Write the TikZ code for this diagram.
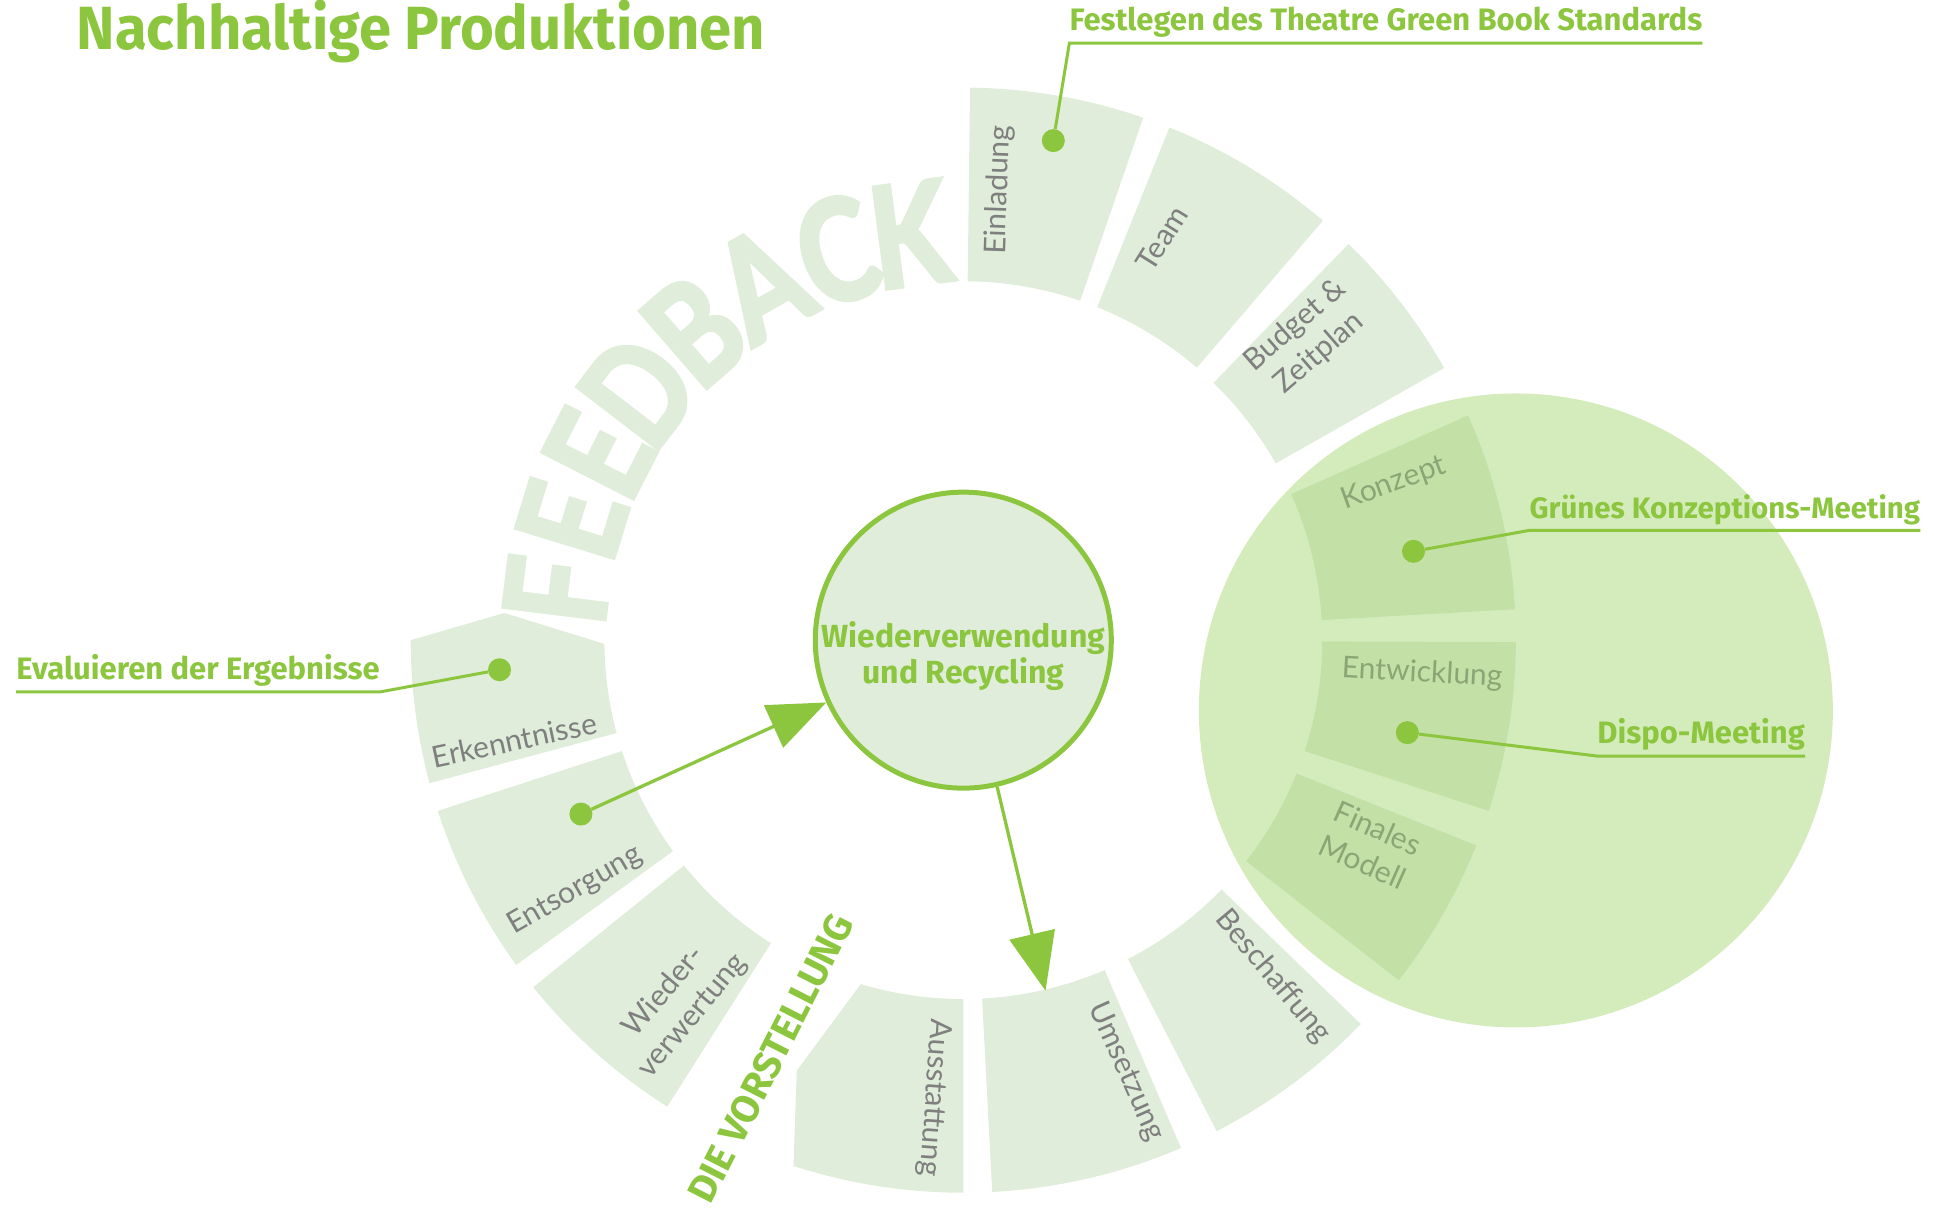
\documentclass[tikz,border=0pt]{standalone}
\usepackage{fontspec}
\usepackage{tikz}
\usetikzlibrary{arrows.meta}
\usepackage{xcolor}

\setmainfont{Lato}
\newfontfamily\greenfont{Fira Sans}
\newfontfamily\titlefont{Fira Sans}[FakeStretch=0.95]
\newfontfamily\stepfont{Lato}
\newfontfamily\feedbackfont{Lato}[FakeStretch=0.8, FakeBold=3]

\definecolor{leaf}{HTML}{8CC63F}
\definecolor{pale}{HTML}{E0EDDA}
\definecolor{zoneGreen}{HTML}{A0D36B}
\definecolor{stepGray}{HTML}{7F7F7F}

% one piece of the ring, from angle #1 to angle #2
\newcommand{\ringPart}[2]{(#1:291) arc[start angle=#1, end angle=#2, radius=291] -- (#2:448) arc[start angle=#2, end angle=#1, radius=448] -- cycle}

\begin{document}
\begin{tikzpicture}[
  x=1.2334pt, y=1.2334pt,
  ringSeg/.style={fill=pale},
  stepLabel/.style={font=\stepfont\fontsize{30}{37}\selectfont, text=stepGray, align=center},
  feedbackLetter/.style={font=\feedbackfont\bfseries\fontsize{141}{141}\selectfont, text=pale, inner sep=0pt},
  hub/.style={draw=leaf, line width=5pt, circle, fill=pale, minimum size=296pt, inner sep=0pt},
  hubText/.style={font=\greenfont\bfseries\fontsize{32}{36}\selectfont, text=leaf, align=center},
  zoneFill/.style={fill=zoneGreen, fill opacity=0.45},
  leafDot/.style={circle, fill=leaf, inner sep=0pt, minimum size=23pt},
  leaderLine/.style={leaf, line width=3pt},
  callout/.style={font=\greenfont\bfseries\fontsize{31}{34}\selectfont, text=leaf, inner xsep=0pt, inner ysep=4pt, text depth=8pt},
  leafArrow/.style={-{Triangle[length=58pt,width=46pt]}, leaf, line width=3.3pt},
  mainTitle/.style={font=\titlefont\bfseries\fontsize{61}{70}\selectfont, text=leaf, inner sep=0pt},
  phaseText/.style={font=\greenfont\bfseries\fontsize{39}{44}\selectfont, text=leaf, inner sep=0pt}]

  \useasboundingbox (-781,-468) rectangle (787,519);

  % the ring of steps
  \fill[ringSeg] \ringPart{71}{89.3};
  \fill[ringSeg] \ringPart{49.4}{68.1};
  \fill[ringSeg] \ringPart{29.5}{45.8};
  \fill[ringSeg] \ringPart{3.2}{24};
  \fill[ringSeg] \ringPart{-18}{-0.2};
  \fill[ringSeg] \ringPart{-38}{-21.8};
  \fill[ringSeg] \ringPart{-62.7}{-44};
  \fill[ringSeg] \ringPart{-87}{-66.8};
  \fill[ringSeg] (-90:291) arc[start angle=-90, end angle=-106.6, radius=291] -- (-135,-349)
    -- (-107.9:448) arc[start angle=-107.9, end angle=-90, radius=448] -- cycle;
  \fill[ringSeg] \ringPart{-141.1}{-122.4};
  \fill[ringSeg] \ringPart{-162}{-144};
  \fill[ringSeg] (180.6:291) arc[start angle=180.6, end angle=195, radius=291]
    -- (195:448) arc[start angle=195, end angle=180, radius=448] -- (-372,22) -- cycle;

  % feedback lettering
  \foreach \ch/\ang [count=\i] in {F/173,E/163,E/153,D/142.5,B/131,A/119.5,C/108,K/97.5}
    \node[feedbackLetter, rotate=\ang-90] (fb\i) at (\ang:332) {\ch};

  % step names
  \node[stepLabel, rotate=88] (sEin) at (29,365) {Einladung};
  \node[stepLabel, rotate=58] (sTeam) at (161,326) {Team};
  \node[stepLabel, rotate=41] (sBud) at (279,244) {Budget \&\\Zeitplan};
  \node[stepLabel, rotate=20] (sKon) at (349,127) {Konzept};
  \node[stepLabel, rotate=-3] (sEnt) at (372,-27) {Entwicklung};
  \node[stepLabel, rotate=-24] (sFin) at (330,-166) {Finales\\Modell};
  \node[stepLabel, rotate=-50] (sBes) at (251,-273) {Beschaffung};
  \node[stepLabel, rotate=-66] (sUms) at (132,-350) {Umsetzung};
  \node[stepLabel, rotate=-94] (sAus) at (-24,-371) {Ausstattung};
  \node[stepLabel, rotate=50] (sWie) at (-231,-295) {Wieder-\\verwertung};
  \node[stepLabel, rotate=30] (sEnts) at (-315,-203) {Entsorgung};
  \node[stepLabel, rotate=12] (sErk) at (-364,-81) {Erkenntnisse};

  % centre
  \node[hub] (hub) at (0,0) {};
  \node[hubText] (hubT) at (0,-13) {Wiederverwendung\\und Recycling};

  % meeting zone
  \fill[zoneFill] (448,-57) circle[radius=257];

  % callouts
  \node[leafDot] (dEin) at (73,405) {};
  \node[callout, anchor=south west] (cFest) at (86,484) {Festlegen des Theatre Green Book Standards};
  \draw[leaderLine] (dEin) -- (cFest.south west) -- (cFest.south east);

  \node[leafDot] (dKon) at (365,72) {};
  \node[callout, anchor=south west, font=\greenfont\bfseries\fontsize{29.5}{34}\selectfont] (cGruen) at (459,89) {Grünes Konzeptions-Meeting};
  \draw[leaderLine] (dKon) -- (cGruen.south west) -- (cGruen.south east);

  \node[leafDot] (dEnt) at (360,-75) {};
  \node[callout, anchor=south west] (cDispo) at (514,-94) {Dispo-Meeting};
  \draw[leaderLine] (dEnt) -- (cDispo.south west) -- (cDispo.south east);

  \node[leafDot] (dErk) at (-376,-24) {};
  \node[callout, anchor=south east] (cEval) at (-473,-42) {Evaluieren der Ergebnisse};
  \draw[leaderLine] (dErk) -- (cEval.south east) -- (cEval.south west);

  % arrows in and out of the centre
  \node[leafDot] (dEnts) at (-310,-141) {};
  \draw[leafArrow] (dEnts) -- (hub);
  \coordinate (umsTip) at (-76.8:292);
  \draw[leafArrow] (hub.-77.5) -- (umsTip);

  \node[phaseText, rotate=63] (vorst) at (-156,-339) {DIE VORSTELLUNG};
  \node[mainTitle, anchor=base west] (title) at (-719,479) {Nachhaltige Produktionen};

\end{tikzpicture}
\end{document}
